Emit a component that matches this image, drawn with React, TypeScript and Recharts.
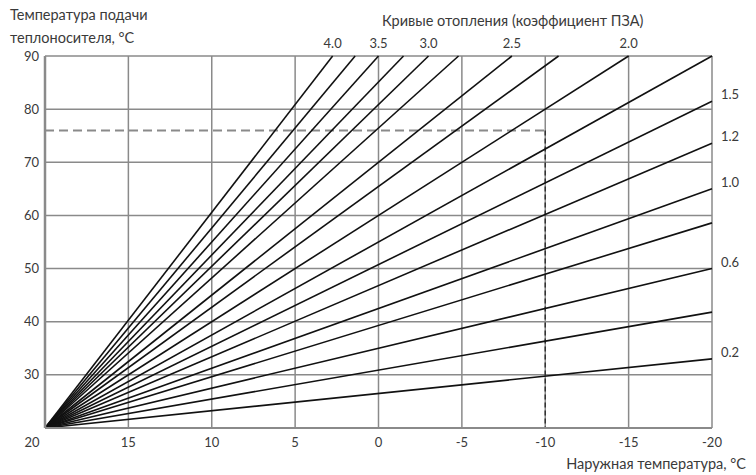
import React from "react";
import {
  LineChart,
  Line,
  XAxis,
  YAxis,
  CartesianGrid,
  LabelList,
} from "recharts";

// heating curves: all start at 20 °C outdoor / 20 °C supply
const curveNames = ["4.0", "3.7", "3.5", "3.2", "3.0", "2.7", "2.5", "2.2", "2.0", "1.7", "1.5", "1.2", "1.0", "0.8", "0.6", "0.4", "0.2"];
const curveLabelShown = ["4.0", "3.5", "3.0", "2.5", "2.0", "1.5", "1.2", "1.0", "0.6", "0.2"];
const endOutdoor = [2.75, 1.4, 0, -1.5, -3.0, -4.8, -8.0, -10.8, -15, -20, -20, -20, -20, -20, -20, -20, -20];
const endSupply = [90, 90, 90, 90, 90, 90, 90, 90, 90, 90, 81.5, 73.6, 65, 58.6, 50, 41.8, 33];
const startOutdoor = 20;
const startSupply = 20;

const outdoorTicks = [20, 15, 10, 5, 0, -5, -10, -15, -20];
const supplyTicks = [20, 30, 40, 50, 60, 70, 80, 90];

const designOutdoor = -10;
const designSupply = 76;

const curves = curveNames.map((name, i) => ({
  name,
  data: [
    { t: startOutdoor, s: startSupply, tag: "" },
    {
      t: endOutdoor[i],
      s: endSupply[i],
      tag: curveLabelShown.includes(name) ? name : "",
    },
  ],
}));

const designH = [
  { t: startOutdoor, s: designSupply },
  { t: designOutdoor, s: designSupply },
];
const designV = [
  { t: designOutdoor, s: designSupply },
  { t: designOutdoor, s: startSupply },
];

const FONT = "Lato, 'Open Sans', sans-serif";
const TXT = "#3a3a3a";

function renderTag(props: any) {
  const { x, y, value } = props;
  if (!value) return null;
  const onTop = y < 60;
  return (
    <text
      x={onTop ? x : x + 9}
      y={onTop ? y - 8 : y - 2}
      textAnchor={onTop ? "middle" : "start"}
      fontSize={13}
      fontFamily={FONT}
      fill={TXT}
    >
      {value}
    </text>
  );
}

function XTick(props: any) {
  const { x, y, payload } = props;
  const shift = payload.value === 20 ? -13 : 0;
  return (
    <text x={x + shift} y={y + 11} textAnchor="middle" fontSize={13} fontFamily={FONT} fill={TXT}>
      {payload.value}
    </text>
  );
}

export default function App() {
  return (
    <div style={{ position: "absolute", left: 0, top: 0, width: 756, height: 475, background: "#fff" }}>
      <LineChart width={756} height={475} margin={{ top: 56, right: 44, bottom: 17, left: 5 }}>
        <CartesianGrid stroke="#8a8a8a" strokeWidth={1.5} horizontalValues={supplyTicks} verticalValues={outdoorTicks} />
        <XAxis
          dataKey="t"
          type="number"
          domain={[-20, 20]}
          reversed
          ticks={outdoorTicks}
          interval={0}
          height={30}
          tickLine={false}
          axisLine={{ stroke: "#8a8a8a", strokeWidth: 2 }}
          tick={<XTick />}
        />
        <YAxis
          dataKey="s"
          type="number"
          domain={[20, 90]}
          ticks={supplyTicks.filter((v) => v !== 20)}
          interval={0}
          width={40}
          tickLine={false}
          tickSize={4}
          axisLine={{ stroke: "#8a8a8a", strokeWidth: 2.5 }}
          tick={{ fontSize: 13, fontFamily: FONT, fill: TXT }}
        />
        <Line
          data={designH}
          dataKey="s"
          stroke="#8a8a8a"
          strokeWidth={2}
          strokeDasharray="9 5"
          dot={false}
          isAnimationActive={false}
        />
        <Line
          data={designV}
          dataKey="s"
          stroke="#333"
          strokeWidth={1.5}
          strokeDasharray="5 3"
          dot={false}
          isAnimationActive={false}
        />
        {curves.map((c) => (
          <Line
            key={c.name}
            data={c.data}
            dataKey="s"
            stroke="#111"
            strokeWidth={1.6}
            dot={false}
            isAnimationActive={false}
          >
            <LabelList dataKey="tag" content={renderTag} />
          </Line>
        ))}
      </LineChart>
      <div style={{ position: "absolute", left: 10, top: 3, fontFamily: FONT, fontSize: 14.5, color: TXT, lineHeight: "23px" }}>
        Температура подачи
        <br />
        теплоносителя, °C
      </div>
      <div style={{ position: "absolute", left: 382, top: 12, fontFamily: FONT, fontSize: 14.5, color: TXT }}>
        Кривые отопления (коэффициент ПЗА)
      </div>
      <div style={{ position: "absolute", right: 10, top: 455, fontFamily: FONT, fontSize: 14.5, color: TXT }}>
        Наружная температура, °C
      </div>
    </div>
  );
}
